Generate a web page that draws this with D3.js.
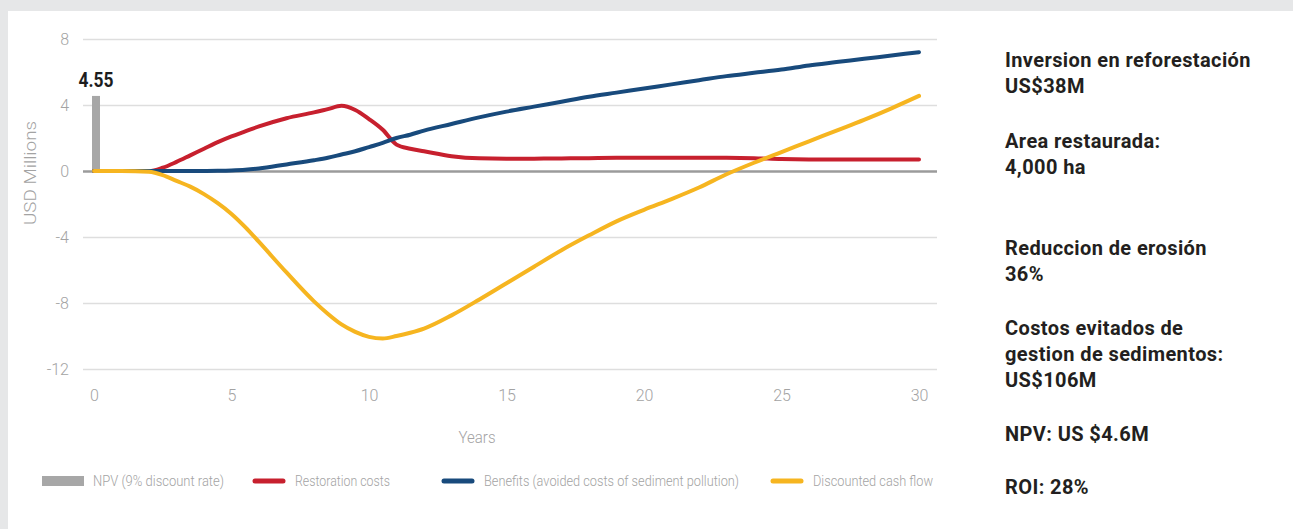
<!DOCTYPE html>
<html>
<head>
<meta charset="utf-8">
<script src="https://cdn.jsdelivr.net/npm/d3@7"></script>
<style>
  html, body { margin: 0; padding: 0; background: #e6e7e8; }
  svg { display: block; }
  .cond { font-family: "Roboto", sans-serif; }
</style>
</head>
<body>
<div id="chart"></div>
<script>
// years on the x axis (half years where the curves bend fast)
var years = [0, 1, 2, 2.5, 3, 3.5, 4, 4.5, 5, 5.5, 6, 7, 8, 8.5, 9, 9.5, 10, 10.5, 11, 11.5, 12,
  13, 14, 15, 16, 17, 18, 19, 20, 21, 22, 23, 24, 25, 26, 27, 28, 29, 30];

var restorationCosts = [0, 0, 0, 0.2, 0.55, 0.95, 1.35, 1.75, 2.1, 2.4, 2.7, 3.2, 3.55, 3.75, 3.95, 3.7, 3.15, 2.5, 1.6, 1.35, 1.2,
  0.9, 0.77, 0.75, 0.75, 0.76, 0.78, 0.8, 0.8, 0.8, 0.8, 0.8, 0.78, 0.72, 0.7, 0.7, 0.7, 0.7, 0.7];

var benefits = [0, 0, 0, 0, 0, 0, 0, 0.01, 0.03, 0.07, 0.15, 0.4, 0.65, 0.8, 1.0, 1.2, 1.45, 1.7, 2.0, 2.2, 2.45,
  2.85, 3.25, 3.6, 3.9, 4.2, 4.5, 4.75, 5.0, 5.25, 5.5, 5.75, 5.95, 6.15, 6.4, 6.6, 6.8, 7.0, 7.2];

var discountedCashFlow = [0, 0, -0.05, -0.25, -0.6, -0.95, -1.4, -1.95, -2.6, -3.4, -4.3, -6.15, -7.9, -8.65, -9.3, -9.75, -10.05, -10.15, -10.0, -9.8, -9.55,
  -8.75, -7.8, -6.8, -5.8, -4.8, -3.9, -3.05, -2.35, -1.7, -1.0, -0.2, 0.5, 1.15, 1.8, 2.45, 3.1, 3.8, 4.55];

var npvYear = 0;
var npvValue = 4.55;

var yTicks = [8, 4, 0, -4, -8, -12];
var xTicks = [0, 5, 10, 15, 20, 25, 30];

var legendLabels = ["NPV (9% discount rate)", "Restoration costs",
  "Benefits (avoided costs of sediment pollution)", "Discounted cash flow"];

var summaryLines = [
  ["Inversion en reforestación", "US$38M"],
  ["Area restaurada:", "4,000 ha"],
  ["Reduccion de erosión", "36%"],
  ["Costos evitados de", "gestion de sedimentos:", "US$106M"],
  ["NPV: US $4.6M"],
  ["ROI: 28%"]
];

function init() {
  var w = 1293;
  var h = 529;

  var red = "#c7202e";
  var blue = "#184a7c";
  var yellow = "#f6b520";
  var barGray = "#a7a7a7";
  var tickGray = "#a3a3a3";

  var svg = d3.select("#chart")
    .append("svg")
    .attr("width", w)
    .attr("height", h);

  // white panel
  svg.append("rect")
    .attr("x", 8)
    .attr("y", 11)
    .attr("width", w - 8)
    .attr("height", h - 11)
    .attr("fill", "#ffffff");

  var x = d3.scaleLinear().domain([0, 30]).range([94, 919]);
  var y = d3.scaleLinear().domain([-12, 8]).range([369, 39]);

  var gridLeft = 83;
  var gridRight = 937;

  // y axis with gridlines
  var yAxis = d3.axisLeft(y)
    .tickValues(yTicks)
    .tickSize(gridRight - gridLeft)
    .tickPadding(14)
    .tickFormat(d3.format("d"));

  var gy = svg.append("g")
    .attr("class", "cond")
    .attr("transform", "translate(" + gridRight + ",0)")
    .call(yAxis);
  gy.select(".domain").remove();
  gy.selectAll(".tick line")
    .attr("stroke", function(d) { return d === 0 ? "#9b9b9b" : "#dedede"; })
    .attr("stroke-width", function(d) { return d === 0 ? 2.5 : 1.5; });
  gy.selectAll(".tick text")
    .attr("fill", tickGray)
    .attr("font-size", 16)
    .attr("font-weight", 300)
    .text(function(d) { return String(d).replace("\u2212", "-"); });

  // x axis
  var xAxis = d3.axisBottom(x)
    .tickValues(xTicks)
    .tickSize(0)
    .tickPadding(21);

  var gx = svg.append("g")
    .attr("class", "cond")
    .attr("transform", "translate(0," + y(-12) + ")")
    .call(xAxis);
  gx.select(".domain").remove();
  gx.selectAll(".tick text")
    .attr("fill", tickGray)
    .attr("font-size", 16)
    .attr("font-weight", 300);

  // axis titles
  svg.append("text")
    .attr("class", "cond")
    .attr("transform", "translate(36," + (y(0) + 2) + ") rotate(-90)")
    .attr("text-anchor", "middle")
    .attr("fill", tickGray)
    .attr("font-size", 17)
    .attr("font-weight", 300)
    .attr("textLength", 104)
    .attr("lengthAdjust", "spacingAndGlyphs")
    .text("USD Millions");

  svg.append("text")
    .attr("class", "cond")
    .attr("x", 477)
    .attr("y", 443)
    .attr("text-anchor", "middle")
    .attr("fill", tickGray)
    .attr("font-size", 17)
    .attr("font-weight", 300)
    .attr("textLength", 37)
    .attr("lengthAdjust", "spacingAndGlyphs")
    .text("Years");

  // NPV bar
  svg.append("rect")
    .attr("x", x(npvYear) - 2)
    .attr("y", y(npvValue))
    .attr("width", 8)
    .attr("height", y(0) - y(npvValue))
    .attr("fill", barGray);

  svg.append("text")
    .attr("class", "cond")
    .attr("x", x(npvYear) + 2)
    .attr("y", y(npvValue) - 9)
    .attr("text-anchor", "middle")
    .attr("fill", "#1d1d1d")
    .attr("font-size", 21)
    .attr("font-weight", 700)
    .attr("textLength", 35)
    .attr("lengthAdjust", "spacingAndGlyphs")
    .text(d3.format(".2f")(npvValue));

  // lines
  var line = d3.line()
    .x(function(d, i) { return x(years[i]); })
    .y(function(d) { return y(d); })
    .curve(d3.curveMonotoneX);

  var series = [
    { values: restorationCosts, color: red },
    { values: benefits, color: blue },
    { values: discountedCashFlow, color: yellow }
  ];

  svg.selectAll(".series")
    .data(series)
    .enter()
    .append("path")
    .attr("class", "series")
    .attr("fill", "none")
    .attr("stroke", function(d) { return d.color; })
    .attr("stroke-width", 4)
    .attr("stroke-linecap", "round")
    .attr("stroke-linejoin", "round")
    .attr("d", function(d) { return line(d.values); });

  // legend
  var legendY = 481;
  var legendX = [42, 252, 441, 770];
  var legendTextW = [131, 95, 255, 120];
  var legendSwatch = [
    { type: "rect", color: barGray, width: 42 },
    { type: "line", color: red, width: 34 },
    { type: "line", color: blue, width: 34 },
    { type: "line", color: yellow, width: 34 }
  ];

  var legend = svg.append("g").attr("class", "cond");
  legendLabels.forEach(function(label, i) {
    var s = legendSwatch[i];
    if (s.type === "rect") {
      legend.append("rect")
        .attr("x", legendX[i])
        .attr("y", legendY - 5)
        .attr("width", s.width)
        .attr("height", 10)
        .attr("fill", s.color);
    } else {
      legend.append("line")
        .attr("x1", legendX[i] + 3)
        .attr("x2", legendX[i] + s.width - 3)
        .attr("y1", legendY)
        .attr("y2", legendY)
        .attr("stroke", s.color)
        .attr("stroke-width", 5)
        .attr("stroke-linecap", "round");
    }
    legend.append("text")
      .attr("x", legendX[i] + s.width + 9)
      .attr("y", legendY + 5)
      .attr("fill", tickGray)
      .attr("font-size", 15)
      .attr("font-weight", 300)
      .attr("textLength", legendTextW[i])
      .attr("lengthAdjust", "spacingAndGlyphs")
      .text(label);
  });

  // summary text on the right
  var blockTops = [67, 148, 255, 335, 441, 494];
  var summary = svg.append("g")
    .attr("font-family", "Roboto, sans-serif")
    .attr("font-weight", 700)
    .attr("font-size", 20)
    .attr("letter-spacing", 0.4)
    .attr("fill", "#231f20");

  summaryLines.forEach(function(block, b) {
    block.forEach(function(txt, j) {
      summary.append("text")
        .attr("x", 1005)
        .attr("y", blockTops[b] + j * 26)
        .text(txt);
    });
  });
}

window.onload = init;
</script>
</body>
</html>
